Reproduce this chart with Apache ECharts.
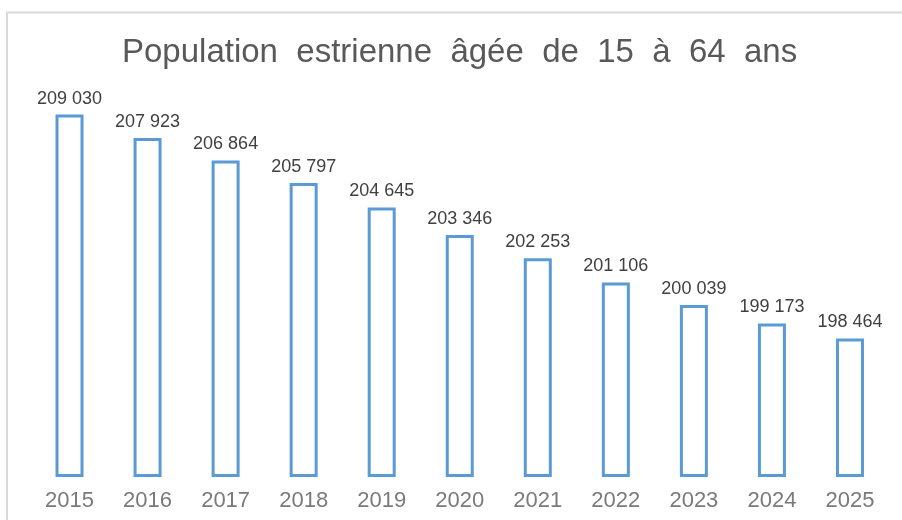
<!DOCTYPE html>
<html>
<head>
<meta charset="utf-8">
<script src="https://cdn.jsdelivr.net/npm/echarts@6/dist/echarts.min.js"></script>
<style>
html, body { margin: 0; padding: 0; background: #fff; }
#chart { width: 902px; height: 520px; }
</style>
</head>
<body>
<div id="chart"></div>
<script>
var years = ['2015', '2016', '2017', '2018', '2019', '2020', '2021', '2022', '2023', '2024', '2025'];
var population = [209030, 207923, 206864, 205797, 204645, 203346, 202253, 201106, 200039, 199173, 198464];
var titleText = 'Population estrienne âgée de 15 à 64 ans';

function fmt(v) {
    return String(v).replace(/\B(?=(\d{3})+(?!\d))/g, ' ');
}

var chart = echarts.init(document.getElementById('chart'));
chart.setOption({
    animation: false,
    title: {
        // the original has wide word spacing
        text: titleText.split(' ').join('  '),
        left: 117,
        top: 31,
        textStyle: {
            fontFamily: 'Liberation Sans',
            fontWeight: 'normal',
            fontSize: 33,
            color: '#595959'
        }
    },
    graphic: [{
        type: 'rect',
        shape: { x: 7, y: 12.5, width: 1000, height: 1000 },
        style: { fill: 'none', stroke: '#d9d9d9', lineWidth: 2 },
        silent: true
    }],
    grid: {
        left: 30.5,
        right: 13,
        top: 94,
        bottom: 44.5
    },
    xAxis: {
        type: 'category',
        data: years,
        axisLine: { show: false },
        axisTick: { show: false },
        axisLabel: {
            margin: 14,
            fontFamily: 'Liberation Sans',
            fontSize: 22,
            color: '#7a7a7a'
        }
    },
    yAxis: {
        type: 'value',
        min: 192000,
        max: 210000,
        show: false,
        splitLine: { show: false }
    },
    series: [{
        type: 'bar',
        data: population,
        barWidth: 28,
        itemStyle: {
            color: '#ffffff',
            borderColor: '#5b9bd5',
            borderWidth: 3
        },
        label: {
            show: true,
            position: 'top',
            distance: 7,
            fontFamily: 'Liberation Sans',
            fontSize: 18,
            color: '#404040',
            formatter: function (p) { return fmt(p.value); }
        }
    }]
});
</script>
</body>
</html>
